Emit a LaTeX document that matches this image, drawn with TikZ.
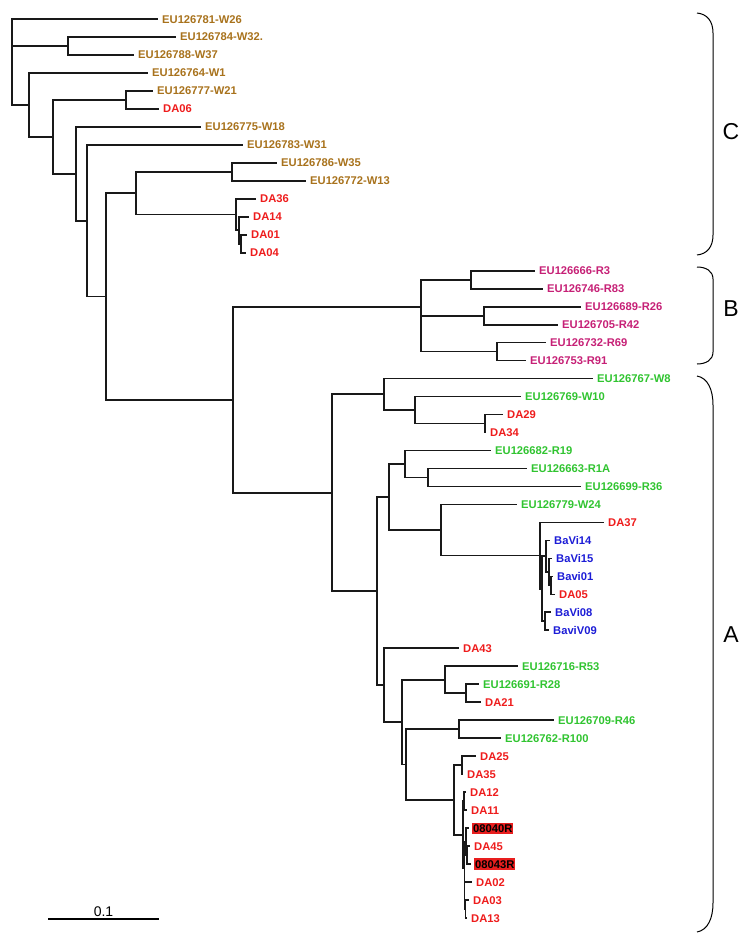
\documentclass[tikz,border=0pt]{standalone}
\usepackage{fontspec}
\newfontfamily\labfont{Liberation Sans}
\definecolor{cbrown}{RGB}{168,114,28}
\definecolor{cred}{RGB}{238,28,28}
\definecolor{cmag}{RGB}{198,32,118}
\definecolor{cgreen}{RGB}{48,196,48}
\definecolor{cblue}{RGB}{28,28,214}
\definecolor{chl}{RGB}{232,30,30}
\tikzset{
 branch/.style={line width=1.7pt, line cap=rect, draw=black!90},
 lab/.style={anchor=west, inner sep=0pt, font=\labfont\bfseries\fontsize{11.2}{13}\selectfont, text height=8pt, text depth=0pt},
 hlab/.style={lab, fill=chl, inner xsep=1pt, inner ysep=1.6pt, text=black},
 brk/.style={line width=1pt},
 clab/.style={font=\labfont\fontsize{23}{26}\selectfont, inner sep=0pt},
}
\newcommand\leaf[5]{\coordinate (#1) at (#2,#3); \node[lab,text=#5] (t#1) at ([xshift=5pt]#1) {#4};}
\newcommand\hleaf[4]{\coordinate (#1) at (#2,#3); \node[hlab] (t#1) at ([xshift=4pt]#1) {#4};}
\newcommand\kids[2]{\foreach \c in {#2} {\draw[branch] (#1) |- (\c);}}
\begin{document}
\begin{tikzpicture}[x=1pt,y=-17.98pt]
\useasboundingbox (0pt,0pt) rectangle (750pt,-943pt);
\begin{scope}[yshift=-19pt]
% leaves
\leaf{W26}{157}{0}{EU126781-W26}{cbrown}
\leaf{W32}{175}{1}{EU126784-W32.}{cbrown}
\leaf{W37}{133}{2}{EU126788-W37}{cbrown}
\leaf{W1}{147}{3}{EU126764-W1}{cbrown}
\leaf{W21}{152}{4}{EU126777-W21}{cbrown}
\leaf{DA06}{158}{5}{DA06}{cred}
\leaf{W18}{200}{6}{EU126775-W18}{cbrown}
\leaf{W31}{242}{7}{EU126783-W31}{cbrown}
\leaf{W35}{276}{8}{EU126786-W35}{cbrown}
\leaf{W13}{305}{9}{EU126772-W13}{cbrown}
\leaf{DA36}{255}{10}{DA36}{cred}
\leaf{DA14}{248}{11}{DA14}{cred}
\leaf{DA01}{246}{12}{DA01}{cred}
\leaf{DA04}{245}{13}{DA04}{cred}
\leaf{R3}{534}{14}{EU126666-R3}{cmag}
\leaf{R83}{542}{15}{EU126746-R83}{cmag}
\leaf{R26}{580}{16}{EU126689-R26}{cmag}
\leaf{R42}{557}{17}{EU126705-R42}{cmag}
\leaf{R69}{545}{18}{EU126732-R69}{cmag}
\leaf{R91}{525}{19}{EU126753-R91}{cmag}
\leaf{W8}{592}{20}{EU126767-W8}{cgreen}
\leaf{W10}{520}{21}{EU126769-W10}{cgreen}
\leaf{DA29}{502}{22}{DA29}{cred}
\leaf{DA34}{485}{23}{DA34}{cred}
\leaf{R19}{490}{24}{EU126682-R19}{cgreen}
\leaf{R1A}{526}{25}{EU126663-R1A}{cgreen}
\leaf{R36}{580}{26}{EU126699-R36}{cgreen}
\leaf{W24}{516}{27}{EU126779-W24}{cgreen}
\leaf{DA37}{603}{28}{DA37}{cred}
\leaf{BaVi14}{549}{29}{BaVi14}{cblue}
\leaf{BaVi15}{551}{30}{BaVi15}{cblue}
\leaf{Bavi01}{552}{31}{Bavi01}{cblue}
\leaf{DA05}{554}{32}{DA05}{cred}
\leaf{BaVi08}{550}{33}{BaVi08}{cblue}
\leaf{BaviV09}{548}{34}{BaviV09}{cblue}
\leaf{DA43}{458}{35}{DA43}{cred}
\leaf{R53}{517}{36}{EU126716-R53}{cgreen}
\leaf{R28}{478}{37}{EU126691-R28}{cgreen}
\leaf{DA21}{480}{38}{DA21}{cred}
\leaf{R46}{553}{39}{EU126709-R46}{cgreen}
\leaf{R100}{500}{40}{EU126762-R100}{cgreen}
\leaf{DA25}{475}{41}{DA25}{cred}
\leaf{DA35}{462}{42}{DA35}{cred}
\leaf{DA12}{465}{43}{DA12}{cred}
\leaf{DA11}{466}{44}{DA11}{cred}
\hleaf{L08040R}{468}{45}{08040R}
\leaf{DA45}{469}{46}{DA45}{cred}
\hleaf{L08043R}{470}{47}{08043R}
\leaf{DA02}{471}{48}{DA02}{cred}
\leaf{DA03}{468}{49}{DA03}{cred}
\leaf{DA13}{466}{50}{DA13}{cred}
% internal nodes
\coordinate (R0) at (12,2.3885);
\coordinate (N68) at (68,1.5);
\coordinate (N29) at (29,4.777);
\coordinate (N53) at (53,6.554);
\coordinate (N126) at (126,4.5);
\coordinate (N76) at (76,8.608);
\coordinate (N87) at (87,11.216);
\coordinate (N106) at (106,15.43);
\coordinate (N136) at (136,9.6875);
\coordinate (N232) at (232,8.5);
\coordinate (N236) at (236,10.875);
\coordinate (N239) at (239,11.75);
\coordinate (N241) at (241,12.5);
\coordinate (N233) at (233,21.175);
\coordinate (N421) at (421,16);
\coordinate (N421b) at (421,17.5);
\coordinate (N471) at (471,14.5);
\coordinate (N484) at (484,16.5);
\coordinate (N497) at (497,18.5);
\coordinate (N332) at (332,26.35);
\coordinate (N384) at (384,20.875);
\coordinate (N415) at (415,21.75);
\coordinate (N485) at (485,22.5);
\coordinate (N377) at (377,31.82);
\coordinate (N389) at (389,26.585);
\coordinate (N405) at (405,24.75);
\coordinate (N428) at (428,25.5);
\coordinate (N441) at (441,28.42);
\coordinate (N540) at (540,29.84);
\coordinate (NB1) at (542,31.6875);
\coordinate (NB2) at (546,29.875);
\coordinate (NB3) at (549,30.75);
\coordinate (NB4) at (551,31.5);
\coordinate (NB5) at (545,33.5);
\coordinate (N384b) at (384,37.055);
\coordinate (N402) at (402,39.11);
\coordinate (N445) at (445,36.75);
\coordinate (N466) at (466,37.5);
\coordinate (N406) at (406,41.47);
\coordinate (N459) at (459,39.5);
\coordinate (N454) at (454,43.4375);
\coordinate (N462) at (462,41.5);
\coordinate (NC1) at (463,45.375);
\coordinate (NC2) at (464,43.5);
\coordinate (NC5) at (464.5,47.25);
\coordinate (NC3) at (466,45.75);
\coordinate (NC3b) at (467,46.5);
\coordinate (NC4) at (464.5,48.75);
\coordinate (NC4b) at (465.5,49.5);
% branches
\kids{R0}{W26,N68,N29}
\kids{N68}{W32,W37}
\kids{N29}{W1,N53}
\kids{N53}{N126,N76}
\kids{N126}{W21,DA06}
\kids{N76}{W18,N87}
\kids{N87}{W31,N106}
\kids{N106}{N136,N233}
\kids{N136}{N232,N236}
\kids{N232}{W35,W13}
\kids{N236}{DA36,N239}
\kids{N239}{DA14,N241}
\kids{N241}{DA01,DA04}
\kids{N233}{N421,N332}
\kids{N421}{N471,N421b}
\kids{N421b}{N484,N497}
\kids{N471}{R3,R83}
\kids{N484}{R26,R42}
\kids{N497}{R69,R91}
\kids{N332}{N384,N377}
\kids{N384}{W8,N415}
\kids{N415}{W10,N485}
\kids{N485}{DA29,DA34}
\kids{N377}{N389,N384b}
\kids{N389}{N405,N441}
\kids{N405}{R19,N428}
\kids{N428}{R1A,R36}
\kids{N441}{W24,N540}
\kids{N540}{DA37,NB1}
\kids{NB1}{NB2,NB5}
\kids{NB2}{BaVi14,NB3}
\kids{NB3}{BaVi15,NB4}
\kids{NB4}{Bavi01,DA05}
\kids{NB5}{BaVi08,BaviV09}
\kids{N384b}{DA43,N402}
\kids{N402}{N445,N406}
\kids{N445}{R53,N466}
\kids{N466}{R28,DA21}
\kids{N406}{N459,N454}
\kids{N459}{R46,R100}
\kids{N454}{N462,NC1}
\kids{N462}{DA25,DA35}
\kids{NC1}{NC2,NC5}
\kids{NC2}{DA12,DA11}
\kids{NC5}{NC3,NC4}
\kids{NC3}{L08040R,NC3b}
\kids{NC3b}{DA45,L08043R}
\kids{NC4}{DA02,NC4b}
\kids{NC4b}{DA03,DA13}
\end{scope}
% brackets
\draw[brk] (697pt,-13pt) .. controls (707pt,-14pt) and (713pt,-21pt) .. (713pt,-33pt) -- (713pt,-235pt) .. controls (713pt,-247pt) and (707pt,-254pt) .. (697pt,-255pt);
\draw[brk] (697pt,-267pt) .. controls (706pt,-267pt) and (713pt,-271pt) .. (713pt,-279pt) -- (713pt,-352pt) .. controls (713pt,-360pt) and (706pt,-364pt) .. (697pt,-364pt);
\draw[brk] (697pt,-376pt) .. controls (708pt,-378pt) and (713pt,-390pt) .. (713pt,-405pt) -- (713pt,-903pt) .. controls (713pt,-918pt) and (708pt,-930pt) .. (697pt,-932pt);
\node[clab] (lC) at (731pt,-132pt) {C};
\node[clab] (lB) at (731pt,-309pt) {B};
\node[clab] (lA) at (731pt,-635pt) {A};
% scale bar
\coordinate (sb1) at (48pt,-919pt);
\coordinate (sb2) at (159pt,-919pt);
\draw[line width=1.6pt] (sb1) -- (sb2);
\node[font=\labfont\fontsize{14}{16}\selectfont, anchor=base, inner sep=0pt] (sbl) at (103.5pt,-916pt) {0.1};
\end{tikzpicture}
\end{document}
